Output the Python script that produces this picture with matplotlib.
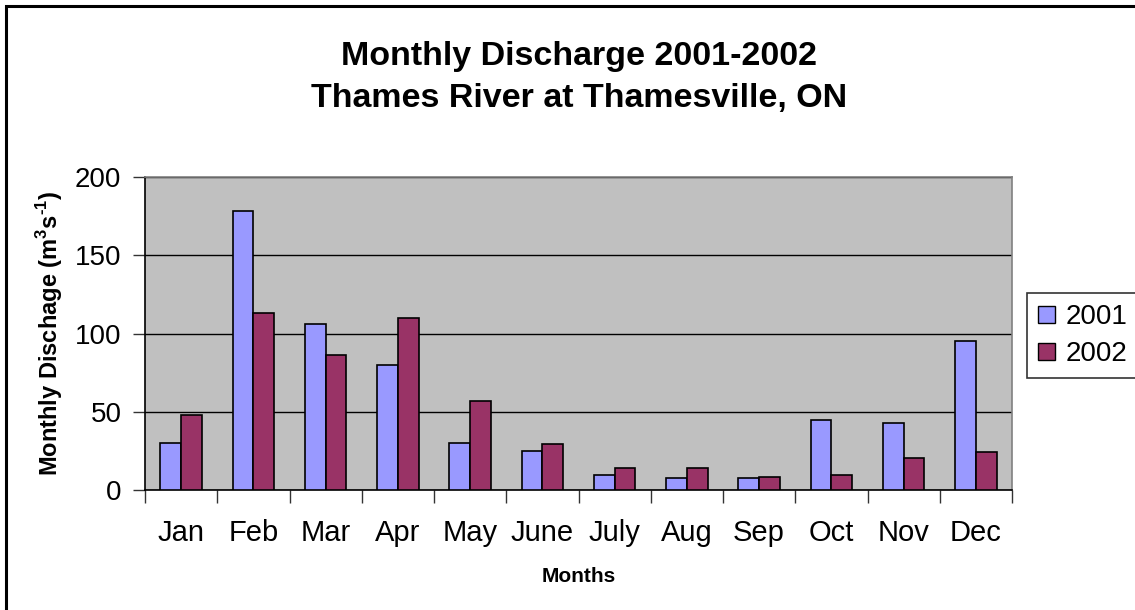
import matplotlib
matplotlib.use("Agg")
import matplotlib.pyplot as plt
import numpy as np
from matplotlib.patches import Rectangle, Patch

plt.rcParams['font.family'] = ['Liberation Sans', 'DejaVu Sans']

months = ["Jan", "Feb", "Mar", "Apr", "May", "June", "July", "Aug", "Sep", "Oct", "Nov", "Dec"]
q2001 = [30, 178, 106, 80, 30, 25, 9.4, 7.4, 7.4, 44.5, 42.6, 95.5]
q2002 = [48, 113, 86, 110, 56.6, 29.6, 13.8, 13.8, 8.3, 9.4, 20.4, 24]
series_names = ["2001", "2002"]
yticks = [0, 50, 100, 150, 200]

c2001 = "#9999FF"
c2002 = "#993366"

W, H = 1135, 610
fig = plt.figure(figsize=(W / 100, H / 100), dpi=100)
fig.patch.set_facecolor("white")

# outer chart border
fig.patches.append(Rectangle((6 / W, -0.02), 1.05, 1 - 6 / H + 0.02, transform=fig.transFigure,
                             fill=False, edgecolor="black", linewidth=2.2, zorder=0))

ax = fig.add_axes([145 / W, 1 - 490 / H, (1012 - 145) / W, (490 - 177) / H])
ax.set_facecolor("#C0C0C0")

x = np.arange(len(months))
w = 0.2857
ax.bar(x - w / 2, q2001, width=w, color=c2001, edgecolor="black", linewidth=1.2, zorder=3)
ax.bar(x + w / 2, q2002, width=w, color=c2002, edgecolor="black", linewidth=1.2, zorder=3)

ax.set_xlim(-0.5, len(months) - 0.5)
ax.set_ylim(0, 200)
ax.set_yticks(yticks)
ax.set_yticklabels([str(v) for v in yticks], fontsize=20)
ax.yaxis.grid(True, color="black", linewidth=1, zorder=1)
ax.set_axisbelow(True)

ax.set_xticks(x)
ax.set_xticklabels(months, fontsize=21)
ax.set_xticks(np.arange(-0.5, len(months)), minor=True)
ax.tick_params(axis="x", which="major", length=0, pad=21)
ax.tick_params(axis="x", which="minor", length=9, width=1, color="#333333", direction="out")
ax.tick_params(axis="y", which="major", length=9, width=1, color="#333333", direction="out", pad=8)

for s in ["left", "bottom"]:
    ax.spines[s].set_color("black")
    ax.spines[s].set_linewidth(1.2)
for s in ["top", "right"]:
    ax.spines[s].set_color("#808080")
    ax.spines[s].set_linewidth(1.2)

ax.set_xlabel("Months", fontsize=15, fontweight="bold", labelpad=14)
ax.set_ylabel("Monthly Dischage (m$^{\\mathregular{3}}$s$^{\\mathregular{\u2010 1}}$)".replace("\u2010 ", "\u2010"),
              fontsize=17, fontweight="bold", labelpad=7)

fig.text(579 / W, 1 - 57 / H, "Monthly Discharge 2001-2002", ha="center", va="center",
         fontsize=24.5, fontweight="bold")
fig.text(579 / W, 1 - 98 / H, "Thames River at Thamesville, ON", ha="center", va="center",
         fontsize=24.5, fontweight="bold")

handles = [Patch(facecolor=c2001, edgecolor="black", linewidth=1),
           Patch(facecolor=c2002, edgecolor="black", linewidth=1)]
leg = fig.legend(handles, series_names, loc="upper left", bbox_to_anchor=(1027 / W, 1 - 293 / H),
                 bbox_transform=fig.transFigure, fontsize=20, frameon=True, fancybox=False,
                 shadow=False, handlelength=0.6, handleheight=0.6, handletextpad=0.4,
                 borderpad=0.4, labelspacing=0.4, borderaxespad=0)
leg.get_frame().set_edgecolor("black")
leg.get_frame().set_linewidth(1.2)

fig.savefig("out.png", dpi=100, facecolor="white")
